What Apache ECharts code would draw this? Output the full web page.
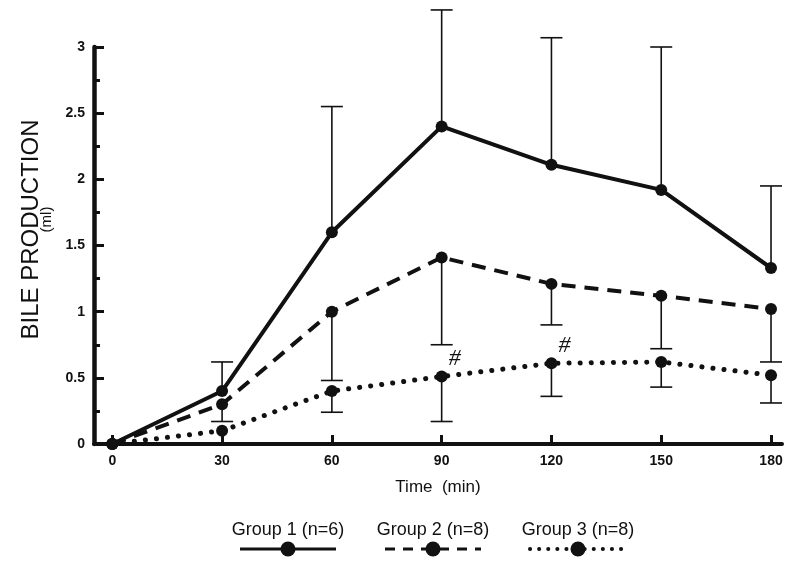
<!DOCTYPE html>
<html>
<head>
<meta charset="utf-8">
<script src="https://cdn.jsdelivr.net/npm/echarts@6/dist/echarts.min.js"></script>
<style>html,body{margin:0;padding:0;background:#fff}#c{width:800px;height:567px}</style>
</head>
<body>
<div id="c"></div>
<script>
const times = [0, 30, 60, 90, 120, 150, 180];
const xTicks = [0, 30, 60, 90, 120, 150, 180];
const yTicks = [0, 0.5, 1, 1.5, 2, 2.5, 3];
const group1 = [0, 0.40, 1.60, 2.40, 2.11, 1.92, 1.33];
const group1ErrTop = [null, 0.62, 2.55, 3.28, 3.07, 3.00, 1.95];
const group2 = [0, 0.30, 1.00, 1.41, 1.21, 1.12, 1.02];
const group2ErrLow = [null, 0.17, 0.48, 0.75, 0.90, 0.72, 0.62];
const group3 = [0, 0.10, 0.40, 0.51, 0.61, 0.62, 0.52];
const group3ErrLow = [null, null, 0.24, 0.17, 0.36, 0.43, 0.31];
const group3Flags = ['', '', '', '#', '#', '', ''];
const legendNames = ['Group 1 (n=6)', 'Group 2 (n=8)', 'Group 3 (n=8)'];

const ink = '#111';
const chart = echarts.init(document.getElementById('c'));

function pairs(vals) { return times.map((t, i) => [t, vals[i]]); }
function errData(vals, errs) {
  return times.map((t, i) => errs[i] == null ? null : [t, vals[i], errs[i]]).filter(d => d);
}
function errRender(params, api) {
  const x = api.value(0), y = api.value(1), e = api.value(2);
  const p1 = api.coord([x, y]);
  const p2 = api.coord([x, e]);
  const half = 11;
  return {
    type: 'group',
    children: [
      { type: 'line', shape: { x1: p1[0], y1: p1[1], x2: p2[0], y2: p2[1] }, style: { stroke: ink, lineWidth: 1.6 } },
      { type: 'line', shape: { x1: p2[0] - half, y1: p2[1], x2: p2[0] + half, y2: p2[1] }, style: { stroke: ink, lineWidth: 1.6 } }
    ]
  };
}

const lineStyles = [
  { color: ink, width: 4, type: 'solid' },
  { color: ink, width: 4, type: [14, 9] },
  { color: ink, width: 5, type: [0.1, 11], cap: 'round' }
];

const g3data = times.map((t, i) => {
  const d = { value: [t, group3[i]] };
  if (group3Flags[i]) {
    d.label = { show: true, formatter: group3Flags[i], position: [13, -24], fontSize: 24, fontStyle: 'italic', fontFamily: 'Liberation Serif', color: ink };
  }
  return d;
});

// legend graphics
const legendX = [288, 433, 578];
const legendGraphics = [];
legendNames.forEach((n, i) => {
  legendGraphics.push({ type: 'text', x: legendX[i], y: 530, style: { text: n, fontSize: 18, fontFamily: 'Liberation Sans', fill: ink, align: 'center', verticalAlign: 'middle' } });
  legendGraphics.push({ type: 'line', shape: { x1: legendX[i] - 48, y1: 549, x2: legendX[i] + 48, y2: 549 }, style: { stroke: ink, lineWidth: i === 2 ? 4 : 3, lineDash: i === 0 ? null : (i === 1 ? [10, 8] : [0.1, 9]), lineCap: i === 2 ? 'round' : 'butt' } });
  legendGraphics.push({ type: 'circle', shape: { cx: legendX[i], cy: 549, r: 7.5 }, style: { fill: ink } });
});

chart.setOption({
  backgroundColor: '#fff',
  animation: false,
  grid: { left: 94, right: 18, top: 47, bottom: 123 },
  xAxis: {
    type: 'value', min: -5, max: 183,
    name: 'Time  (min)', nameLocation: 'middle', nameGap: 35,
    nameTextStyle: { fontSize: 17, fontFamily: 'Liberation Sans', color: ink },
    axisLine: { lineStyle: { color: ink, width: 4 } },
    axisTick: { show: true, inside: true, length: 9, lineStyle: { color: ink, width: 3 }, customValues: xTicks },
    axisLabel: { fontSize: 14, fontWeight: 'bold', fontFamily: 'Liberation Sans', color: ink, margin: 10, customValues: xTicks },
    splitLine: { show: false }
  },
  yAxis: {
    type: 'value', min: 0, max: 3, interval: 0.5,
    name: '{a|BILE PRODUCTION}\n{b|(ml)}', nameLocation: 'middle', nameGap: 37,
    nameTextStyle: {
      color: ink, fontFamily: 'Liberation Sans',
      rich: {
        a: { fontSize: 24, lineHeight: 17, fontFamily: 'Liberation Sans', color: ink, padding: [0, 0, 0, 32] },
        b: { fontSize: 15, lineHeight: 15, fontFamily: 'Liberation Sans', color: ink, padding: [0, 0, 0, 52] }
      }
    },
    axisLine: { show: true, onZero: false, lineStyle: { color: ink, width: 4.5 } },
    axisTick: { show: true, inside: true, length: 10, lineStyle: { color: ink, width: 3 } },
    minorTick: { show: true, splitNumber: 2, length: 6, lineStyle: { color: ink, width: 3 } },
    axisLabel: { fontSize: 14, fontWeight: 'bold', fontFamily: 'Liberation Sans', color: ink, margin: 9, formatter: v => String(v) },
    splitLine: { show: false }
  },
  graphic: legendGraphics,
  series: [
    { type: 'custom', renderItem: errRender, data: errData(group1, group1ErrTop), z: 1, silent: true },
    { type: 'custom', renderItem: errRender, data: errData(group2, group2ErrLow), z: 1, silent: true },
    { type: 'custom', renderItem: errRender, data: errData(group3, group3ErrLow), z: 1, silent: true },
    { name: legendNames[0], type: 'line', data: pairs(group1), symbol: 'circle', symbolSize: 12, itemStyle: { color: ink }, lineStyle: lineStyles[0], z: 3 },
    { name: legendNames[1], type: 'line', data: pairs(group2), symbol: 'circle', symbolSize: 12, itemStyle: { color: ink }, lineStyle: lineStyles[1], z: 3 },
    { name: legendNames[2], type: 'line', data: g3data, symbol: 'circle', symbolSize: 12, itemStyle: { color: ink }, lineStyle: lineStyles[2], z: 3 }
  ]
});
</script>
</body>
</html>
